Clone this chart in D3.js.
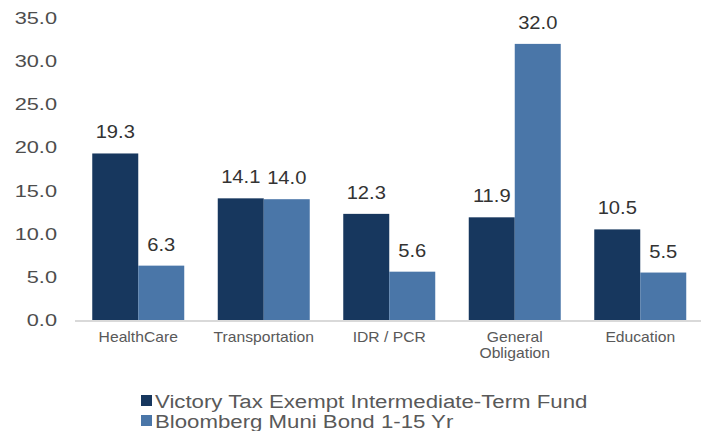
<!DOCTYPE html>
<html>
<head>
<meta charset="utf-8">
<script src="https://cdn.jsdelivr.net/npm/d3@7"></script>
<style>
  html, body { margin: 0; padding: 0; background: #fff; }
  svg { display: block; font-family: "Liberation Sans", Arial, Helvetica, sans-serif; }
</style>
</head>
<body>
<div id="chart"></div>
<script>
// --- Data ---
const categories = ["HealthCare", "Transportation", "IDR / PCR", "General\nObligation", "Education"];
const seriesNames = ["Victory Tax Exempt Intermediate-Term Fund", "Bloomberg Muni Bond 1-15 Yr"];
const fundValues = [19.3, 14.1, 12.3, 11.9, 10.5];
const benchValues = [6.3, 14.0, 5.6, 32.0, 5.5];
const yTicks = [0, 5, 10, 15, 20, 25, 30, 35];

const colors = ["#17375e", "#4a76a8"];

const W = 701, H = 431;
const svg = d3.select("#chart").append("svg")
    .attr("width", W)
    .attr("height", H);

// --- Scales ---
const y = d3.scaleLinear().domain([0, 35]).range([320, 18]);
const x = d3.scaleBand().domain(categories).range([75.5, 703]).paddingInner(0.267).paddingOuter(0.1335);
const xs = d3.scaleBand().domain([0, 1]).range([0, x.bandwidth()]);

// the source text is rendered wide, so stretch it horizontally
const place = (px, py, sx) => `translate(${px},${py}) scale(${sx},1)`;

// y tick labels (no axis line)
svg.append("g").selectAll("text")
    .data(yTicks)
    .join("text")
    .attr("transform", d => place(57, y(d), 1.28))
    .attr("dy", "0.35em")
    .attr("text-anchor", "end")
    .style("font-size", "17px")
    .style("fill", "#4d4d4d")
    .text(d => d.toFixed(1));

// bars
const rows = categories.map((c, i) => ({ cat: c, vals: [fundValues[i], benchValues[i]] }));
const groups = svg.append("g").selectAll("g")
    .data(rows)
    .join("g")
    .attr("transform", d => `translate(${x(d.cat)},0)`);

groups.selectAll("rect")
    .data(d => d.vals.map((v, k) => ({ v, k })))
    .join("rect")
    .attr("x", d => xs(d.k))
    .attr("y", d => y(d.v))
    .attr("width", xs.bandwidth())
    .attr("height", d => y(0) - y(d.v))
    .attr("fill", d => colors[d.k]);

groups.selectAll("text.val")
    .data(d => d.vals.map((v, k) => ({ v, k })))
    .join("text")
    .attr("class", "val")
    .attr("transform", d => place(xs(d.k) + xs.bandwidth() / 2, y(d.v) - 15, 1.12))
    .attr("text-anchor", "middle")
    .style("font-size", "18px")
    .style("fill", "#333")
    .text(d => d.v.toFixed(1));

// x axis line
svg.append("line")
    .attr("x1", 75).attr("x2", 701)
    .attr("y1", y(0) + 1).attr("y2", y(0) + 1)
    .attr("stroke", "#d9d9d9")
    .attr("stroke-width", 2);

// category labels
const catLabels = svg.append("g").selectAll("text")
    .data(categories)
    .join("text")
    .attr("transform", d => place(x(d) + x.bandwidth() / 2, 342, 1.12))
    .attr("text-anchor", "middle")
    .style("font-size", "14px")
    .style("fill", "#595959");
catLabels.each(function(d) {
    const t = d3.select(this);
    d.split("\n").forEach((line, i) => {
        t.append("tspan")
            .attr("x", 0)
            .attr("dy", i === 0 ? 0 : 16)
            .text(line);
    });
});

// legend
const legend = svg.append("g").selectAll("g")
    .data(seriesNames)
    .join("g")
    .attr("transform", (d, i) => `translate(141,${401 + i * 20})`);
legend.append("rect")
    .attr("x", 0).attr("y", -6)
    .attr("width", 11).attr("height", 11)
    .attr("fill", (d, i) => colors[i]);
legend.append("text")
    .attr("transform", place(14, 0, 1.17))
    .attr("dy", "0.35em")
    .style("font-size", "19px")
    .style("fill", "#595959")
    .text(d => d);
</script>
</body>
</html>
